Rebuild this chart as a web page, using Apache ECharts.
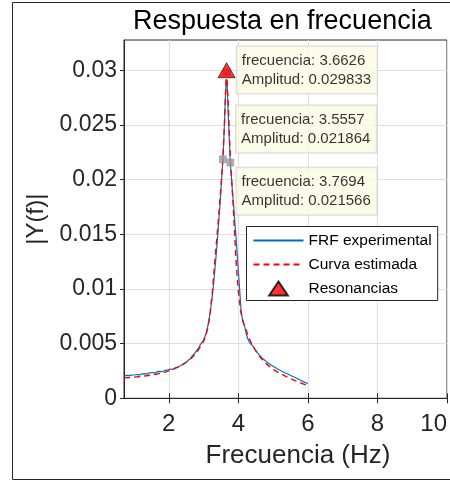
<!DOCTYPE html>
<html><head><meta charset="utf-8">
<script src="https://cdn.jsdelivr.net/npm/echarts@6/dist/echarts.min.js"></script>
<style>html,body{margin:0;padding:0;background:#fff;overflow:hidden}#c{width:450px;height:481px}</style>
</head><body><div id="c"></div>
<script>
// Experimental FRF (blue)
const freqExp = [0.72,0.78,0.85,0.92,1.0,1.08,1.15,1.22,1.3,1.38,1.45,1.52,1.6,1.68,1.75,1.82,1.9,1.97,2.05,2.12,2.2,2.27,2.35,2.42,2.5,2.56,2.62,2.68,2.74,2.8,2.86,2.92,2.98,3.03,3.08,3.13,3.18,3.24,3.30,3.36,3.42,3.48,3.53,3.5557,3.59,3.62,3.645,3.6626,3.68,3.71,3.74,3.7694,3.82,3.88,3.95,4.02,4.08,4.13,4.18,4.22,4.27,4.32,4.38,4.46,4.52,4.6,4.68,4.76,4.86,4.95,5.05,5.14,5.24,5.34,5.44,5.52,5.62,5.72,5.82,5.9,5.96,6.0];
const ampExp = [0.00204,0.00210,0.00207,0.00212,0.00213,0.00218,0.00214,0.00222,0.00225,0.00221,0.00233,0.00236,0.00232,0.00244,0.00247,0.00243,0.00256,0.00260,0.00268,0.00265,0.00282,0.00289,0.00300,0.00316,0.00330,0.00348,0.00362,0.00390,0.00408,0.00436,0.00462,0.00498,0.00520,0.00556,0.00600,0.00672,0.00760,0.00900,0.01080,0.01300,0.01540,0.01800,0.02050,0.02186,0.02420,0.02680,0.02880,0.02920,0.02860,0.02600,0.02380,0.02157,0.01940,0.01700,0.01400,0.01080,0.00800,0.00700,0.00660,0.00600,0.00545,0.00512,0.00490,0.00458,0.00430,0.00398,0.00370,0.00348,0.00322,0.00302,0.00284,0.00266,0.00250,0.00234,0.00220,0.00206,0.00192,0.00176,0.00160,0.00148,0.00140,0.00134];
// Estimated curve (red dashed)
const freqFit = [0.72,0.9,1.1,1.3,1.5,1.7,1.9,2.1,2.3,2.45,2.6,2.72,2.82,2.92,3.0,3.06,3.12,3.18,3.25,3.32,3.4,3.48,3.5557,3.6,3.63,3.6626,3.7,3.77,3.85,3.93,4.0,4.07,4.15,4.22,4.3,4.39,4.5,4.62,4.75,4.9,5.05,5.2,5.35,5.5,5.65,5.8,5.92,6.0];
const ampFit = [0.00187,0.00191,0.00197,0.00204,0.00213,0.00225,0.00240,0.00262,0.00290,0.00318,0.00352,0.00390,0.00428,0.00478,0.00520,0.00570,0.00640,0.00750,0.00960,0.01240,0.01530,0.01850,0.02190,0.02500,0.02780,0.02980,0.02760,0.02200,0.01780,0.01280,0.00980,0.00790,0.00690,0.00630,0.00555,0.00495,0.00435,0.00380,0.00332,0.00290,0.00256,0.00227,0.00203,0.00180,0.00160,0.00140,0.00125,0.00115];
// Resonance
const resFreq = [3.6626];
const resAmp = [0.029833];
// Data tips
const tipFreq = [3.6626, 3.5557, 3.7694];
const tipAmp = [0.029833, 0.021864, 0.021566];
// Ticks
const xTicks = [2, 4, 6, 8, 10];
const yTicks = [0, 0.005, 0.01, 0.015, 0.02, 0.025, 0.03];

const xMin = 0.713, xMax = 10, yMax = 0.03278;
const tipLabelOffsets = [[14, -22], [17, -50], [10, 9]];
const FONT = '"Liberation Sans", Arial, Helvetica, sans-serif';
const zip = (a, b) => a.map((v, i) => [v, b[i]]);
const AX = '#262626', GRID = '#dfdfdf';

const chart = echarts.init(document.getElementById('c'), null, {renderer: 'canvas'});
chart.setOption({
  animation: false,
  backgroundColor: '#fff',
  textStyle: {fontFamily: FONT},
  title: {text: 'Respuesta en frecuencia', left: 133, top: 8, padding: 0,
    textStyle: {fontFamily: FONT, fontSize: 27, fontWeight: 'normal', color: '#000'}},
  graphic: [{type: 'rect', silent: true, z: -10,
    shape: {x: 12.5, y: 2.5, width: 470, height: 477},
    style: {fill: 'none', stroke: AX, lineWidth: 1}}],
  grid: {left: 124, right: -1, top: 40, bottom: 82.7, show: true, borderColor: AX, borderWidth: 1},
  legend: {
    data: [
      {name: 'FRF experimental', itemStyle: {opacity: 0}},
      {name: 'Curva estimada', itemStyle: {opacity: 0}},
      {name: 'Resonancias', icon: 'path://M10,0 L20,15 L0,15 Z'}
    ],
    orient: 'vertical', left: 246.5, top: 226.5, padding: [6, 6, 4, 6],
    itemGap: 8, itemWidth: 50, itemHeight: 14, symbolKeepAspect: true,
    borderColor: AX, borderWidth: 1, backgroundColor: '#fff',
    textStyle: {fontFamily: FONT, fontSize: 15.5, color: '#000'}
  },
  xAxis: [{
    type: 'value', min: xMin, max: xMax,
    name: 'Frecuencia (Hz)', nameLocation: 'middle', nameGap: 45,
    nameTextStyle: {fontFamily: FONT, fontSize: 26, color: AX, padding: [0, 0, 0, 25]},
    axisLine: {show: true, onZero: false, lineStyle: {color: AX}},
    axisTick: {show: true, inside: true, length: 5, customValues: xTicks, lineStyle: {color: AX}},
    axisLabel: {customValues: xTicks, fontFamily: FONT, fontSize: 24, color: AX, margin: 14,
      alignMaxLabel: 'right', formatter: v => String(v)},
    splitLine: {show: true, lineStyle: {color: GRID, width: 1}}
  }, {
    type: 'value', position: 'top', min: xMin, max: xMax,
    axisLine: {show: true, lineStyle: {color: AX}},
    axisTick: {show: true, inside: true, length: 5, customValues: xTicks, lineStyle: {color: AX}},
    axisLabel: {show: false}, splitLine: {show: false}
  }],
  yAxis: {
    type: 'value', min: 0, max: yMax, interval: 0.005,
    name: '|Y(f)|', nameLocation: 'middle', nameGap: 75,
    nameTextStyle: {fontFamily: FONT, fontSize: 24, color: AX},
    axisLine: {show: true, onZero: false, lineStyle: {color: AX}},
    axisTick: {show: true, length: 4, customValues: yTicks, lineStyle: {color: AX}},
    axisLabel: {customValues: yTicks, fontFamily: FONT, fontSize: 23, color: AX, margin: 7,
      formatter: v => String(+v.toFixed(3))},
    splitLine: {show: true, lineStyle: {color: GRID, width: 1}}
  },
  series: [{
    name: 'FRF experimental', type: 'line', data: zip(freqExp, ampExp),
    symbol: 'none', z: 2,
    lineStyle: {color: '#0072BD', width: 1.2}, itemStyle: {color: '#0072BD'}
  }, {
    name: 'Curva estimada', type: 'line', data: zip(freqFit, ampFit),
    symbol: 'none', z: 3,
    lineStyle: {color: '#FF0000', width: 1.4, type: [6, 4]}, itemStyle: {color: '#FF0000'}
  }, {
    name: 'datatips', type: 'scatter', z: 10,
    symbol: 'rect', symbolSize: 7,
    itemStyle: {color: '#9b9b9b', borderColor: '#808080', borderWidth: 0.5},
    data: tipFreq.map((f, i) => ({value: [f, tipAmp[i]], label: {position: tipLabelOffsets[i]}})),
    label: {
      show: true, color: '#000', fontFamily: FONT, fontSize: 15, lineHeight: 19,
      backgroundColor: '#fbfbe4', borderColor: '#cfcfcf', borderWidth: 1, padding: [5, 6, 4, 5],
      formatter: p => 'frecuencia: ' + p.value[0] + '\nAmplitud: ' + p.value[1]
    }
  }, {
    name: 'Resonancias', type: 'scatter', z: 11,
    symbol: 'triangle', symbolSize: [17, 15], symbolOffset: [0, -2],
    itemStyle: {color: '#FF0000', borderColor: '#000', borderWidth: 0.8},
    data: zip(resFreq, resAmp)
  }]
});
</script></body></html>
